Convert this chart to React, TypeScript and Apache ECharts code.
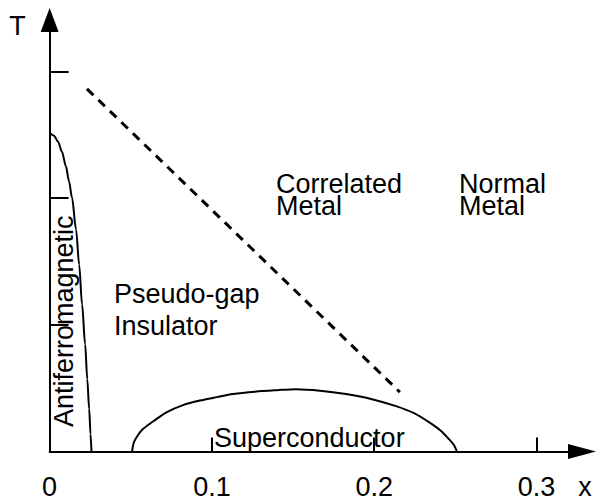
import { useEffect, useRef } from "react";
import * as echarts from "echarts";

// Axis settings (data units)
const xMax = 0.328;
const yMax = 3.405;
const xTickValues = [0.1, 0.2, 0.3];
const xLabelValues = [0, 0.1, 0.2, 0.3];
const yTickValues = [1, 2, 3];

// Antiferromagnetic boundary (x, T)
const afBoundary: number[][] = [
  [0, 2.516], [0.0027, 2.492], [0.0052, 2.445], [0.0076, 2.366], [0.0101, 2.248],
  [0.012, 2.13], [0.0138, 2.004], [0.0163, 1.752], [0.0182, 1.476], [0.02, 1.161],
  [0.0219, 0.846], [0.0232, 0.571], [0.0244, 0.335], [0.0252, 0.138], [0.0258, 0],
];

// Superconducting dome (x, T)
const scDome: number[][] = [
  [0.0508, 0], [0.052, 0.075], [0.0545, 0.13], [0.0575, 0.177], [0.0649, 0.248],
  [0.0723, 0.311], [0.0822, 0.366], [0.0926, 0.402], [0.1031, 0.429], [0.113, 0.453],
  [0.1265, 0.472], [0.1401, 0.484], [0.1518, 0.492], [0.1666, 0.48], [0.1826, 0.453],
  [0.1986, 0.413], [0.2134, 0.358], [0.2245, 0.303], [0.2337, 0.232], [0.2405, 0.169],
  [0.246, 0.098], [0.2491, 0.051], [0.2509, 0],
];

// Pseudo-gap crossover (dashed)
const crossover: number[][] = [
  [0.023, 2.862], [0.2158, 0.4685],
];

const FONT = '"Liberation Sans", Arial, Helvetica, sans-serif';
const FS = 27;

function txt(text: string, x: number, y: number, align = "left", rotation = 0) {
  return {
    type: "text",
    x,
    y,
    rotation,
    silent: true,
    style: {
      text,
      fill: "#000",
      font: `${FS}px ${FONT}`,
      lineHeight: 20,
      align,
      verticalAlign: "middle",
      textAlign: align,
      textVerticalAlign: "middle",
    },
  };
}

export default function App() {
  const ref = useRef<HTMLDivElement>(null);
  useEffect(() => {
    if (!ref.current) return;
    const chart = echarts.init(ref.current, undefined, { renderer: "svg" });
    const lineBase = {
      type: "line",
      showSymbol: false,
      symbol: "none",
      silent: true,
      clip: false,
      lineStyle: { color: "#000", width: 2 },
    };
    chart.setOption({
      animation: false,
      backgroundColor: "#fff",
      grid: { left: 49.6, right: 14, top: 20, bottom: 47.5 },
      xAxis: {
        type: "value",
        min: 0,
        max: xMax,
        axisLine: {
          show: true,
          onZero: false,
          symbol: ["none", "triangle"],
          symbolSize: [15, 28],
          lineStyle: { color: "#000", width: 2 },
        },
        axisTick: {
          show: true,
          inside: true,
          length: 14,
          customValues: xTickValues,
          lineStyle: { color: "#000", width: 2 },
        },
        axisLabel: {
          show: true,
          customValues: xLabelValues,
          formatter: (v: number) => (v === 0 ? "0" : String(Math.round(v * 10) / 10)),
          fontSize: FS,
          fontFamily: FONT,
          color: "#000",
          lineHeight: 20,
          margin: 25,
        },
        splitLine: { show: false },
      },
      yAxis: {
        type: "value",
        min: 0,
        max: yMax,
        axisLine: {
          show: true,
          onZero: false,
          symbol: ["none", "triangle"],
          symbolSize: [18, 24],
          lineStyle: { color: "#000", width: 2 },
        },
        axisTick: {
          show: true,
          inside: true,
          length: 19,
          customValues: yTickValues,
          lineStyle: { color: "#000", width: 2 },
        },
        axisLabel: { show: false },
        splitLine: { show: false },
      },
      series: [
        { ...lineBase, name: "AF", data: afBoundary, smooth: 0.3, smoothMonotone: "x" },
        { ...lineBase, name: "SC", data: scDome, smooth: 0.3 },
        {
          ...lineBase,
          name: "crossover",
          data: crossover,
          lineStyle: { color: "#000", width: 3, type: [9, 7] },
        },
      ],
      graphic: [
        txt("T", 17.5, 26, "center"),
        txt("x", 585, 487, "center"),
        txt("Correlated", 276, 184),
        txt("Metal", 276, 206),
        txt("Normal", 459, 184),
        txt("Metal", 459, 206),
        txt("Pseudo-gap", 114, 294),
        txt("Insulator", 114, 326),
        txt("Superconductor", 214, 438),
        txt("Antiferromagnetic", 64, 427, "left", Math.PI / 2),
      ],
    });
    return () => chart.dispose();
  }, []);
  return (
    <div
      ref={ref}
      style={{ position: "fixed", left: 0, top: 0, width: 596, height: 500 }}
    />
  );
}
